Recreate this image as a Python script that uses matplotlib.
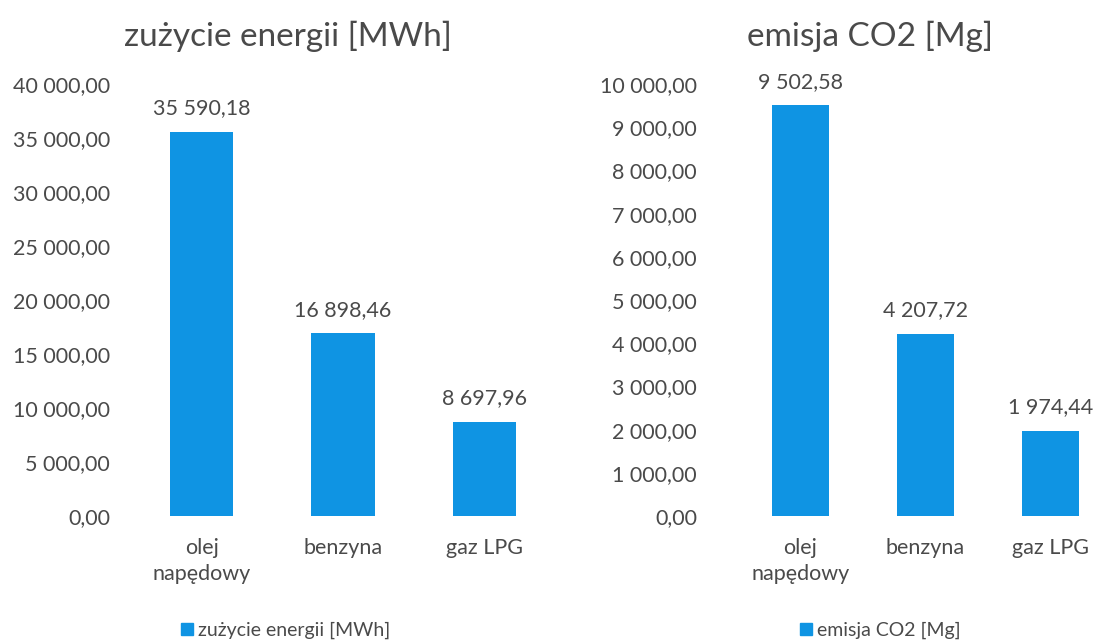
import numpy as np
import matplotlib.pyplot as plt
from matplotlib.patches import Patch

plt.rcParams['font.family'] = ['Lato', 'DejaVu Sans']

categories = ['olej\nnapędowy', 'benzyna', 'gaz LPG']
energy_mwh = [35590.18, 16898.46, 8697.96]
co2_mg = [9502.58, 4207.72, 1974.44]

energy_ticks = np.arange(0, 40001, 5000)
co2_ticks = np.arange(0, 10001, 1000)

BAR_COLOR = '#0F94E3'
TEXT_COLOR = '#4a4a4a'
W, H = 1101, 640


def fmt(v):
    s = f"{v:,.2f}"
    return s.replace(',', ' ').replace('.', ',')


def px_axes(fig, x0, y0, x1, y1):
    # pixel box (top-left origin) -> figure fraction
    return fig.add_axes([x0 / W, 1 - y1 / H, (x1 - x0) / W, (y1 - y0) / H])


def draw_panel(ax, values, ticks, title, title_x, ypad, legend_x):
    x = np.arange(len(values))
    ax.bar(x, values, width=0.45, color=BAR_COLOR)
    ax.set_xlim(-0.5, len(values) - 0.5)
    ax.set_ylim(ticks[0], ticks[-1])
    ax.set_yticks(ticks)
    ax.set_yticklabels([fmt(t) for t in ticks])
    ax.set_xticks(x)
    ax.set_xticklabels(categories, linespacing=1.35)
    ax.tick_params(length=0, labelsize=15.5, labelcolor=TEXT_COLOR)
    ax.tick_params(axis='y', pad=ypad)
    ax.tick_params(axis='x', pad=16)
    for sp in ax.spines.values():
        sp.set_visible(False)
    for xi, v in zip(x, values):
        ax.annotate(fmt(v), (xi, v), xytext=(0, 10), textcoords='offset points',
                    ha='center', va='bottom', fontsize=15.5, color=TEXT_COLOR)
    # title is centred on the whole chart block, not the plot area
    fig.text(title_x / W, 1 - 36 / H, title, fontsize=24, color=TEXT_COLOR,
             ha='center', va='center')
    ax.legend(handles=[Patch(color=BAR_COLOR, label=title)],
              loc='center', bbox_to_anchor=(legend_x, -0.265), frameon=False,
              fontsize=14, handlelength=0.6, handleheight=0.6, handletextpad=0.3,
              labelcolor=TEXT_COLOR)


fig = plt.figure(figsize=(W / 100, H / 100), dpi=100)
ax1 = px_axes(fig, 131, 84, 555, 516)
ax2 = px_axes(fig, 738, 84, 1113, 516)

draw_panel(ax1, energy_mwh, energy_ticks, 'zużycie energii [MWh]', 288, 15, 0.365)
draw_panel(ax2, co2_mg, co2_ticks, 'emisja CO2 [Mg]', 870, 29.5, 0.38)

fig.savefig('out.png', dpi=100)
